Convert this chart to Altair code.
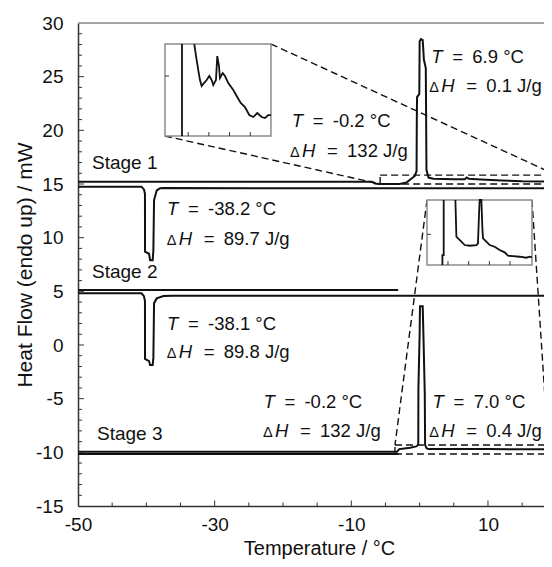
import altair as alt
import pandas as pd

# ---------------- values ----------------
# Stage 1 heating (-50 -> 20 degC), melting peak and small peak at 6.9
s1_heat_x = [-50, -7.0, -6.5, -6.0, -2.9, -1.9, -0.7, -0.45, -0.42, -0.38, -0.05, 0.0, 0.2, 0.45,
             0.62, 0.9, 1.0, 1.3, 2.0, 5.0, 6.6, 6.9, 7.2, 9.0, 12.0, 15.0, 20.0]
s1_heat_y = [15.21, 15.21, 15.05, 15.0, 15.0, 15.15, 15.75, 16.2, 20.5, 23.1, 23.4, 28.3, 28.5, 28.4,
             26.6, 25.8, 16.3, 15.6, 15.5, 15.45, 15.45, 15.6, 15.48, 15.42, 15.32, 15.25, 15.22]
# Stage 1 cooling (freezing exotherm near -38 degC)
s1_cool_x = [-50, -40.7, -40.35, -40.2, -40.19, -39.6, -39.45, -39.07, -38.97, -38.87, -38.48, -38.0, -37.5, 20]
s1_cool_y = [14.75, 14.75, 14.5, 14.1, 8.7, 8.5, 7.9, 7.9, 8.8, 13.5, 14.4, 14.6, 14.62, 14.6]
# Stage 2 cooling and heating (heating stops at -3 degC)
s2_cool_x = [-50, -40.7, -40.35, -40.2, -40.19, -39.6, -39.45, -39.07, -38.97, -38.87, -38.48, -37.5, -36.0, 20]
s2_cool_y = [4.81, 4.81, 4.55, 4.1, -1.3, -1.5, -1.87, -1.87, -1.2, 3.9, 4.34, 4.56, 4.58, 4.6]
s2_heat_x = [-50, -3.15]
s2_heat_y = [5.12, 5.12]
# Stage 3 cooling (from -3 degC) and heating
s3_cool_x = [-50, -3.1]
s3_cool_y = [-10.16, -10.16]
s3_heat_x = [-50, -3.3, -3.0, -2.5, -1.4, -0.5, -0.2, -0.18, 0.0, 0.05, 0.45, 0.55, 0.75, 0.8,
             1.0, 1.24, 3.0, 7.0, 10.0, 20.0]
s3_heat_y = [-9.95, -9.95, -9.7, -9.66, -9.58, -9.45, -9.3, -4.0, 1.0, 3.6, 3.6, 1.0, -4.5, -9.3,
             -9.6, -9.7, -9.7, -9.68, -9.7, -9.72]

# Inset 1 (zoom of stage 1 heating), own units
inset1_xdomain = [-5.6, 20.0]
inset1_ydomain = [15.2, 15.66]
inset1_xticks = [0, 5, 10, 15]
inset1_yticks = [15.5]
inset1_wall_x = [-1.49, -1.49]
inset1_wall_y = [15.2, 15.66]
inset1_x = [1.48, 1.9, 2.44, 2.85, 3.26, 3.82, 4.47, 5.10, 5.68, 6.07, 6.72, 7.03, 7.44, 7.68, 8.34,
            8.89, 9.69, 10.9, 11.86, 12.69, 13.72, 14.76, 15.73, 16.69, 17.76, 18.55, 19.35, 20.0]
inset1_y = [15.66, 15.6, 15.53, 15.48, 15.45, 15.465, 15.48, 15.50, 15.48, 15.455, 15.48, 15.60,
            15.55, 15.49, 15.515, 15.50, 15.465, 15.43, 15.395, 15.365, 15.345, 15.305, 15.295,
            15.315, 15.295, 15.29, 15.305, 15.305]

# Inset 2 (zoom of stage 3 heating), own units
inset2_xdomain = [-5.07, 20.3]
inset2_ydomain = [-9.907, -9.257]
inset2_xticks = [0, 5, 10, 15]
inset2_yticks = [-9.6]
inset2_wall_x = [-1.35, -1.35, -1.04, -1.04]
inset2_wall_y = [-9.907, -9.807, -9.807, -9.257]
inset2_x = [1.79, 2.03, 2.42, 3.24, 4.04, 5.24, 6.86, 7.25, 7.49, 7.66, 8.07, 8.31, 8.46, 9.28,
            10.08, 11.28, 12.49, 13.70, 14.5, 15.70, 17.32, 18.94, 19.74, 20.3]
inset2_y = [-9.257, -9.624, -9.64, -9.674, -9.707, -9.714, -9.707, -9.69, -9.407, -9.257, -9.257,
            -9.54, -9.64, -9.674, -9.707, -9.724, -9.757, -9.78, -9.814, -9.817, -9.824, -9.834,
            -9.824, -9.83]

# Inset frames and zoom rectangles, in main-plot units
inset1_box = [-37.27, -21.76, 19.47, 28.04]
inset2_box = [1.08, 16.44, 7.45, 13.51]
zoom1_rect = [-5.78, 20.0, 15.0, 15.83]
zoom2_rect = [-3.61, 20.0, -10.16, -9.32]
zoom2_right_end = 18.8

# Annotations
ann_T_x = [-18.73, 1.7, -36.98, -36.98, -22.87, 1.9]
ann_T_y = [20.34, 26.25, 12.11, 1.40, -5.90, -5.90]
ann_T_rest = ["=\u2002-0.2 °C", "=\u20026.9 °C", "=\u2002-38.2 °C", "=\u2002-38.1 °C",
              "=\u2002-0.2 °C", "=\u20027.0 °C"]
ann_H_x = [-18.97, 1.4, -37.02, -37.02, -22.93, 1.4]
ann_H_y = [17.54, 23.60, 9.31, -1.24, -8.54, -8.54]
ann_H_rest = ["=\u2002132 J/g", "=\u20020.1 J/g", "=\u200289.7 J/g", "=\u200289.8 J/g",
              "=\u2002132 J/g", "=\u20020.4 J/g"]
stage_labels = ["Stage 1", "Stage 2", "Stage 3"]
stage_x = [-47.95, -47.95, -47.22]
stage_y = [16.36, 6.21, -8.85]

# Axis ticks
x_labels = [-50, -30, -10, 10]
y_labels = [-15, -10, -5, 0, 5, 10, 15, 20, 25, 30]
x_major = [-30, -10, 10]
x_minor = [-45, -40, -35, -25, -20, -15, -5, 0, 5, 15]
y_major = [-10, -5, 0, 5, 10, 15, 20, 25]
y_minor = [v for v in range(-14, 30) if v % 5 != 0]

# ---------------- layout ----------------
W, H = 466, 483
XD = [-50, 18.2]
YD = [-15, 30]
FONT = "Liberation Sans"
INK = "#111111"
ANN = 18.5


def px_x(v):
    return (v - XD[0]) / (XD[1] - XD[0]) * W


def px_y(v):
    return (YD[1] - v) / (YD[1] - YD[0]) * H


dx_unit = (XD[1] - XD[0]) / W  # data per pixel
dy_unit = (YD[1] - YD[0]) / H

xs = alt.Scale(domain=XD, nice=False, zero=False)
ys = alt.Scale(domain=YD, nice=False, zero=False)

xaxis = alt.Axis(values=x_labels, ticks=False, tickSize=0, grid=False, labelPadding=9,
                 labelFlush=False, labelExpr="'' + datum.value",
                 labelFont=FONT, labelFontSize=19, labelColor=INK, domainColor="#333333",
                 domainWidth=1.5, title="Temperature / °C", titleFont=FONT, titleFontSize=20,
                 titleFontWeight="normal", titleColor=INK, titleX=241, titleY=48,
                 titleAlign="center", titleBaseline="alphabetic")
yaxis = alt.Axis(values=y_labels, ticks=False, tickSize=0, grid=False, labelPadding=15,
                 labelFlush=False, labelExpr="'' + datum.value",
                 labelFont=FONT, labelFontSize=19, labelColor=INK, domainColor="#333333",
                 domainWidth=1.5, title="Heat Flow (endo up) / mW", titleFont=FONT,
                 titleFontSize=21, titleFontWeight="normal", titleColor=INK, titleAngle=-90,
                 titleX=-53, titleY=H / 2, titleAlign="center", titleBaseline="middle")

rows = []
for name, xx, yy in [("s1h", s1_heat_x, s1_heat_y), ("s1c", s1_cool_x, s1_cool_y),
                     ("s2c", s2_cool_x, s2_cool_y), ("s2h", s2_heat_x, s2_heat_y),
                     ("s3c", s3_cool_x, s3_cool_y), ("s3h", s3_heat_x, s3_heat_y)]:
    for i, (a, b) in enumerate(zip(xx, yy)):
        rows.append({"series": name, "i": i, "x": a, "y": b})
curve_df = pd.DataFrame(rows)

curves = alt.Chart(curve_df).mark_line(color=INK, strokeWidth=2, clip=True).encode(
    x=alt.X("x:Q", scale=xs, axis=xaxis),
    y=alt.Y("y:Q", scale=ys, axis=yaxis),
    detail="series:N", order="i:Q")

# dashed zoom rectangles and connector lines
segs = []
for r in (zoom1_rect, zoom2_rect):
    segs.append((r[0], r[3], r[1], r[3]))
    segs.append((r[0], r[2], r[1], r[2]))
    segs.append((r[0], r[2], r[0], r[3]))
segs.append((inset1_box[1], inset1_box[3], zoom1_rect[1], zoom1_rect[3]))
segs.append((inset1_box[0], inset1_box[2], zoom1_rect[0], zoom1_rect[2]))
segs.append((inset2_box[0], inset2_box[3], zoom2_rect[0], zoom2_rect[3]))
segs.append((inset2_box[1], inset2_box[3], zoom2_right_end, zoom2_rect[3]))
seg_df = pd.DataFrame(segs, columns=["x", "y", "x2", "y2"])
dashed = alt.Chart(seg_df).mark_rule(color=INK, strokeWidth=1.4, strokeDash=[7, 4], clip=True).encode(
    x=alt.X("x:Q", scale=xs), y=alt.Y("y:Q", scale=ys), x2="x2:Q", y2="y2:Q")

# top frame line
top_df = pd.DataFrame({"x": [XD[0]], "x2": [XD[1]], "y": [YD[1]]})
top_line = alt.Chart(top_df).mark_rule(color="#8c8c8c", strokeWidth=1.5).encode(
    x=alt.X("x:Q", scale=xs), x2="x2:Q", y=alt.Y("y:Q", scale=ys))

# inward ticks
tk = []
for v in y_major:
    tk.append((XD[0], v, XD[0] + 6 * dx_unit, v))
for v in y_minor:
    tk.append((XD[0], v, XD[0] + 4 * dx_unit, v))
for v in x_major:
    tk.append((v, YD[0], v, YD[0] + 5.5 * dy_unit))
for v in x_minor:
    tk.append((v, YD[0], v, YD[0] + 3.5 * dy_unit))
tick_df = pd.DataFrame(tk, columns=["x", "y", "x2", "y2"])
ticks = alt.Chart(tick_df).mark_rule(color="#333333", strokeWidth=1).encode(
    x=alt.X("x:Q", scale=xs), y=alt.Y("y:Q", scale=ys), x2="x2:Q", y2="y2:Q")

# annotations
tdf = pd.DataFrame({"x": ann_T_x, "y": ann_T_y, "t": ["T"] * 6, "r": ann_T_rest})
hdf = pd.DataFrame({"x": ann_H_x, "y": ann_H_y, "d": ["\u0394"] * 6, "h": ["H"] * 6, "r": ann_H_rest})
sdf = pd.DataFrame({"x": stage_x, "y": stage_y, "t": stage_labels})


def txt(df, field, dx=0, size=19, style="normal"):
    return alt.Chart(df).mark_text(align="left", baseline="alphabetic", font=FONT, fontSize=size,
                                   fontStyle=style, color=INK, dx=dx).encode(
        x=alt.X("x:Q", scale=xs), y=alt.Y("y:Q", scale=ys), text=f"{field}:N")


texts = [
    txt(tdf, "t", 0, ANN, "italic"),
    txt(tdf, "r", 21, ANN),
    txt(hdf, "d", 0, 14.5),
    txt(hdf, "h", 12, ANN, "italic"),
    txt(hdf, "r", 37, ANN),
    txt(sdf, "t", 0, 19),
]

main = alt.layer(curves, dashed, top_line, ticks, *texts)


def inset(box, xdom, ydom, wall_x, wall_y, cx, cy, xt, yt):
    sx = alt.Scale(domain=xdom, range=[px_x(box[0]), px_x(box[1])], nice=False, zero=False)
    sy = alt.Scale(domain=ydom, range=[px_y(box[2]), px_y(box[3])], nice=False, zero=False)
    frame_df = pd.DataFrame({"x": [xdom[0]], "x2": [xdom[1]], "y": [ydom[0]], "y2": [ydom[1]]})
    frame = alt.Chart(frame_df).mark_rect(fill="white", stroke="#8c8c8c", strokeWidth=1.5).encode(
        x=alt.X("x:Q", scale=sx, axis=None), x2="x2:Q",
        y=alt.Y("y:Q", scale=sy, axis=None), y2="y2:Q")
    r = []
    for i, (a, b) in enumerate(zip(wall_x, wall_y)):
        r.append({"seg": "wall", "i": i, "x": a, "y": b})
    for i, (a, b) in enumerate(zip(cx, cy)):
        r.append({"seg": "curve", "i": i, "x": a, "y": b})
    line = alt.Chart(pd.DataFrame(r)).mark_line(color=INK, strokeWidth=1.8).encode(
        x=alt.X("x:Q", scale=sx, axis=None), y=alt.Y("y:Q", scale=sy, axis=None),
        detail="seg:N", order="i:Q")
    ppx = (xdom[1] - xdom[0]) / (px_x(box[1]) - px_x(box[0]))
    ppy = (ydom[1] - ydom[0]) / (px_y(box[2]) - px_y(box[3]))
    t = [(v, ydom[0], v, ydom[0] + 4 * ppy) for v in xt]
    t += [(xdom[0], v, xdom[0] + 4 * ppx, v) for v in yt]
    tdf_ = pd.DataFrame(t, columns=["x", "y", "x2", "y2"])
    tks = alt.Chart(tdf_).mark_rule(color="#333333", strokeWidth=1).encode(
        x=alt.X("x:Q", scale=sx, axis=None), y=alt.Y("y:Q", scale=sy, axis=None),
        x2="x2:Q", y2="y2:Q")
    return alt.layer(frame, line, tks)


ins1 = inset(inset1_box, inset1_xdomain, inset1_ydomain, inset1_wall_x, inset1_wall_y,
             inset1_x, inset1_y, inset1_xticks, inset1_yticks)
ins2 = inset(inset2_box, inset2_xdomain, inset2_ydomain, inset2_wall_x, inset2_wall_y,
             inset2_x, inset2_y, inset2_xticks, inset2_yticks)

chart = alt.layer(main, ins1, ins2).resolve_scale(x="independent", y="independent").properties(
    width=W, height=H,
    autosize=alt.AutoSizeParams(type="none"),
    padding={"left": 70, "top": 15, "right": 0, "bottom": 53},
).configure_view(stroke=None).configure(background="white")

chart.save("out.html", embed_options={"renderer": "svg", "actions": False})
